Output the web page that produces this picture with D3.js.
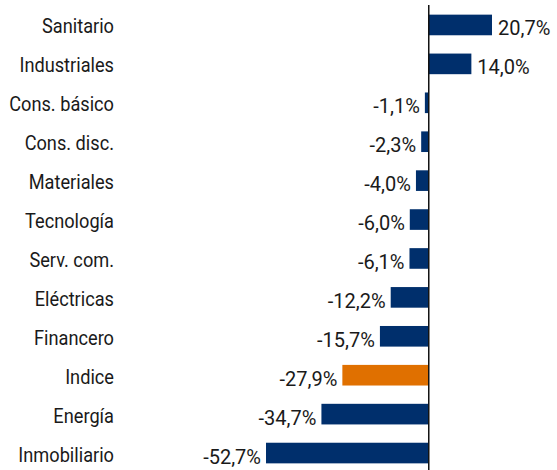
<!DOCTYPE html>
<html lang="es">
  <head>
    <meta charset="UTF-8" />
    <title>sectores</title>
    <style>
      body {
        margin: 0;
        background: #fff;
      }
      svg {
        display: block;
        font-family: Roboto, "Liberation Sans", sans-serif;
      }
      .cat,
      .val {
        font-size: 20px;
        fill: #1a1a1a;
      }
    </style>
    <script src="https://cdn.jsdelivr.net/npm/d3@7"></script>
  </head>
  <body>
    <div class="container"></div>
    <script>
      const categories = [
        "Sanitario",
        "Industriales",
        "Cons. básico",
        "Cons. disc.",
        "Materiales",
        "Tecnología",
        "Serv. com.",
        "Eléctricas",
        "Financero",
        "Indice",
        "Energía",
        "Inmobiliario",
      ];
      const values = [20.7, 14.0, -1.1, -2.3, -4.0, -6.0, -6.1, -12.2, -15.7, -27.9, -34.7, -52.7];
      const highlight = ["Indice"];

      const data = categories.map((c, i) => ({ key: c, val: values[i] }));

      const width = 557,
        height = 470;
      const squeeze = 0.91; // la fuente original es condensada

      // escala: 0 cae en x=428
      const x = d3.scaleLinear().domain([-52.7, 20.7]).range([266, 492]);

      const y = d3
        .scaleBand()
        .domain(categories)
        .range([5.5, 472.5])
        .paddingInner(0.47)
        .paddingOuter(0.235);

      const svg = d3
        .select(".container")
        .append("svg")
        .attr("width", width)
        .attr("height", height);

      svg
        .selectAll("rect.bar")
        .data(data)
        .enter()
        .append("rect")
        .attr("class", "bar")
        .attr("x", (d) => x(Math.min(0, d.val)))
        .attr("width", (d) => Math.abs(x(d.val) - x(0)))
        .attr("y", (d) => y(d.key))
        .attr("height", y.bandwidth())
        .attr("fill", (d) => (highlight.includes(d.key) ? "#e07000" : "#002f6c"));

      // eje vertical en el cero
      svg
        .append("line")
        .attr("x1", x(0) + 0.5)
        .attr("x2", x(0) + 0.5)
        .attr("y1", 5)
        .attr("y2", height)
        .attr("stroke", "#111")
        .attr("stroke-width", 1.5);

      const mid = (d) => y(d.key) + y.bandwidth() / 2;

      svg
        .selectAll("text.cat")
        .data(data)
        .enter()
        .append("text")
        .attr("class", "cat")
        .attr("transform", (d) => "translate(114," + (mid(d) + 8.5) + ") scale(" + squeeze + ",1)")
        .attr("text-anchor", "end")
        .text((d) => d.key);

      const fmt = (v) => v.toFixed(1).replace(".", ",") + "%";

      svg
        .selectAll("text.val")
        .data(data)
        .enter()
        .append("text")
        .attr("class", "val")
        .attr("x", (d) => (d.val >= 0 ? x(d.val) + 6 : x(d.val) - 5))
        .attr("y", (d) => mid(d) + 10.5)
        .attr("text-anchor", (d) => (d.val >= 0 ? "start" : "end"))
        .text((d) => fmt(d.val));
    </script>
  </body>
</html>
